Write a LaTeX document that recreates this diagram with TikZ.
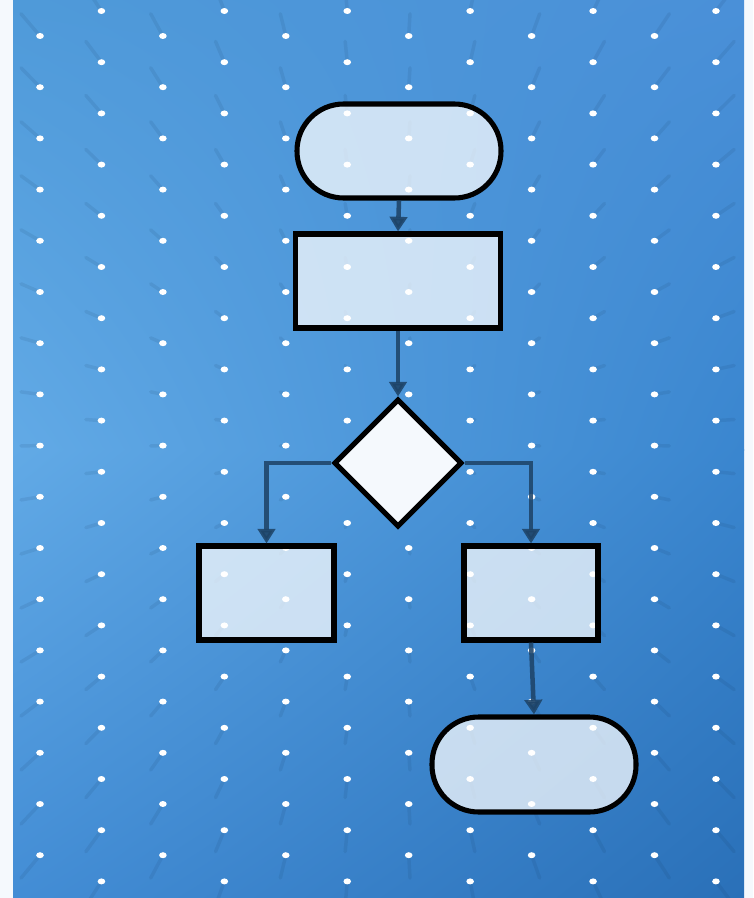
\documentclass[tikz,border=0pt]{standalone}
\usetikzlibrary{shapes.geometric,arrows.meta,shadings}
\definecolor{pagebg}{HTML}{F5F9FD}
\definecolor{cTL}{HTML}{4F9AD9}
\definecolor{cTR}{HTML}{4A90D8}
\definecolor{cML}{HTML}{62AAE6}
\definecolor{cMR}{HTML}{3A86CF}
\definecolor{cBL}{HTML}{438DD5}
\definecolor{cBR}{HTML}{2A70B8}
\definecolor{shadowc}{HTML}{0E2C4C}
\definecolor{arrowc}{HTML}{1E4468}
\definecolor{diafill}{HTML}{F5F9FD}
\tikzset{
  boxbase/.style={draw=black, line width=3.8pt, fill=white, fill opacity=0.72, draw opacity=1, inner sep=0pt, shape=rectangle},
  term/.style={boxbase, rounded corners=35pt, minimum width=153pt, minimum height=70.5pt},
  procbox/.style={boxbase, minimum height=70.5pt},
  decbox/.style={diamond, draw=black, line width=3.8pt, fill=diafill, minimum width=96pt, minimum height=96pt, inner sep=0pt, aspect=1},
  flow/.style={draw=arrowc, line width=3.4pt, opacity=0.88, -{Triangle[width=13pt,length=11pt]}},
}
\begin{document}
\begin{tikzpicture}[x=0.75pt,y=-0.75pt]
\useasboundingbox (0,0) rectangle (753,898);
\fill[pagebg] (0,0) rectangle (753,898);
\shade[upper left=cTL, upper right=cTR, lower left=cML, lower right=cMR] (13,0) rectangle (744,450);
\shade[upper left=cML, upper right=cMR, lower left=cBL, lower right=cBR] (13,449) rectangle (744,898);
% dot shadows
\foreach \i in {0,...,11}{
  \pgfmathsetmacro{\xx}{40+61.45*\i}
  \pgfmathtruncatemacro{\odd}{mod(\i,2)}
  \pgfmathsetmacro{\yo}{\odd==1 ? 11 : 36}
  \pgfmathtruncatemacro{\kmax}{\odd==1 ? 17 : 16}
  \foreach \k in {0,...,\kmax}{
    \pgfmathsetmacro{\yy}{\yo+51.2*\k}
    \pgfmathsetmacro{\sx}{\xx+0.055*(\xx-385)}
    \pgfmathsetmacro{\sy}{\yy+0.055*(\yy-440)}
    \draw[shadowc, line width=2.6pt, line cap=round, opacity=0.09] (\xx,\yy) -- (\sx,\sy);
  }
}
% dots
\foreach \i in {0,...,11}{
  \pgfmathsetmacro{\xx}{40+61.45*\i}
  \pgfmathtruncatemacro{\odd}{mod(\i,2)}
  \pgfmathsetmacro{\yo}{\odd==1 ? 11 : 36}
  \pgfmathtruncatemacro{\kmax}{\odd==1 ? 17 : 16}
  \foreach \k in {0,...,\kmax}{
    \pgfmathsetmacro{\yy}{\yo+51.2*\k}
    \fill[white] (\xx,\yy) ellipse [x radius=3.8, y radius=3];
  }
}
% nodes
\node[term] (start) at (399,151) {};
\node[procbox, minimum width=153.75pt] (proc) at (398,281) {};
\node[decbox] (dia) at (398,463) {};
\node[procbox, minimum width=101.25pt] (left) at (266.5,593) {};
\node[procbox, minimum width=100.5pt] (right) at (531,593) {};
\node[term, minimum height=71.25pt] (end) at (534,764.5) {};
% connectors
\draw[flow] (start.south) -- (proc.north);
\draw[flow] (proc.south) -- (dia.north);
\draw[flow] (dia.west) -| (left.north);
\draw[flow] (dia.east) -| (right.north);
\draw[flow] (right.south) -- (end.north);
\end{tikzpicture}
\end{document}
